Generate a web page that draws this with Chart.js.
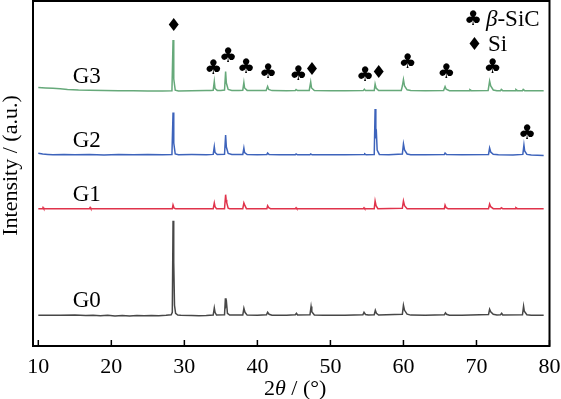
<!DOCTYPE html>
<html>
<head>
<meta charset="utf-8">
<script src="https://cdn.jsdelivr.net/npm/chart.js@4.4.1/dist/chart.umd.min.js"></script>
<style>
  html, body { margin: 0; padding: 0; background: #fff; }
  #wrap { width: 561px; height: 399px; }
</style>
</head>
<body>
<div id="wrap"><canvas id="c" width="561" height="399"></canvas></div>
<script>
// ---------------- DATA ----------------
const xTicks = [10, 20, 30, 40, 50, 60, 70, 80];
const seriesNames = ['G0', 'G1', 'G2', 'G3'];
// vertical stacking offsets of each pattern (a.u.)
const seriesOffsets = [30.7, 137.3, 191, 255];

// [2θ (°), intensity above own baseline (a.u.)]
const g0 = [[10.0,0],[13.0,0],[15.0,0.2],[16.5,-0.3],[17.5,0],[18.5,-0.5],[19.5,0],[20.5,-0.6],[21.5,-0.2],[22.5,-0.6],[23.5,-0.1],[24.5,-0.5],[25.5,-0.2],[26.5,-0.5],[27.5,0],[28.2,0.5],[28.35,3],[28.45,94.5],[28.52,40],[28.57,53],[28.65,10],[28.8,2],[29.1,0.3],[29.5,0],[31.0,-0.3],[32.0,-0.5],[33.0,-0.2],[33.95,0.3],[34.1,7.3],[34.2,3],[34.4,0.3],[35.5,0.5],[35.62,17],[35.7,10],[35.78,12],[35.9,2],[36.2,0.2],[38.0,0.3],[38.15,7],[38.3,3],[38.6,0.2],[40.0,0],[41.25,0.5],[41.4,3],[41.6,1],[42.0,0],[44.0,0],[45.2,0.5],[45.35,2],[45.5,0.3],[47.2,0.5],[47.35,8.7],[47.45,3.5],[47.8,0.4],[49.0,0],[52.0,0],[54.45,0.5],[54.6,3],[54.8,0.8],[55.2,0.2],[56.0,0.5],[56.15,5],[56.3,2],[56.6,0.3],[59.85,1],[60.0,10],[60.15,5],[60.5,1.2],[61.0,0.2],[63.0,0],[65.6,0.5],[65.75,2.5],[65.9,1],[66.3,0],[68.0,0],[71.65,0.7],[71.8,6],[71.95,3.5],[72.3,1],[72.8,0.2],[73.3,0.5],[73.45,2],[73.6,0.3],[76.3,0.5],[76.45,9],[76.55,4],[76.9,0.6],[77.5,0],[79.2,0]];

const g1 = [[10.0,0],[10.6,0],[10.65,1.2],[10.75,0],[17.0,0],[17.1,1.2],[17.2,0],[28.35,0],[28.45,3.7],[28.6,0.5],[28.8,0],[33.95,0],[34.1,5.7],[34.2,2],[34.4,0],[35.5,0],[35.65,14],[35.72,9],[35.8,6],[36.0,0.5],[36.2,0],[38.0,0],[38.15,5.7],[38.3,3],[38.5,0],[41.3,0],[41.4,3],[41.55,1],[41.8,0],[45.2,0],[45.3,1],[45.4,0],[54.5,0],[54.6,1],[54.7,0],[56.0,0],[56.12,7.7],[56.25,3],[56.5,0],[59.85,0.5],[60.0,7.7],[60.15,3],[60.5,0],[65.6,0],[65.7,3.7],[65.85,1],[66.1,0],[71.65,0],[71.8,4.7],[71.95,2],[72.3,0],[73.3,0],[73.4,1],[73.6,0],[75.3,0],[75.4,1],[75.6,0],[79.2,0]];

const g2 = [[10.0,1.8],[10.6,1.0],[11.3,0.6],[12.0,0.3],[13.5,0.5],[15.0,0.2],[17.0,0.4],[19.0,0.1],[21.0,0.4],[23.0,0.2],[25.0,0.4],[27.0,0.2],[28.3,0.4],[28.45,42.5],[28.55,12],[28.75,1],[29.2,0.2],[31.0,0.4],[33.0,0.3],[33.95,0.6],[34.1,8.3],[34.2,2.5],[34.5,0.5],[35.5,0.8],[35.65,20],[35.75,8],[36.0,1.5],[36.5,0.5],[38.0,0.6],[38.15,7],[38.25,2.5],[38.6,0.4],[40.0,0.3],[41.3,0.6],[41.4,2],[41.6,0.4],[43.0,0.2],[45.2,0.3],[45.3,1],[45.5,0.2],[47.2,0.3],[47.3,1],[47.5,0.2],[50.0,0.3],[52.0,0.2],[54.6,0.4],[54.7,1.2],[54.9,0.2],[56.0,0.5],[56.12,46],[56.22,20],[56.3,22],[56.4,5],[56.7,0.6],[58.0,0.2],[59.85,1],[60.0,11],[60.15,5],[60.5,1],[61.0,0.3],[63.0,0.2],[65.6,0.5],[65.7,2],[65.9,0.5],[68.0,0.2],[71.65,0.6],[71.8,7],[71.95,3],[72.3,0.8],[73.0,0.2],[75.0,0.1],[76.35,0.6],[76.5,10],[76.6,4],[76.9,0.6],[77.5,0],[79.2,-0.5]];

const g3 = [[10.0,3.4],[11.0,3.0],[12.0,2.7],[13.0,2.2],[14.0,1.6],[15.5,1.0],[17.0,0.8],[19.0,0.6],[21.0,0.3],[23.0,0.2],[25.0,0],[27.0,0.1],[28.3,0.2],[28.45,51],[28.55,12],[28.75,0.8],[29.2,0],[31.0,0.3],[33.0,0.5],[33.6,0.6],[33.95,0.8],[34.1,9.5],[34.2,2.5],[34.5,0.6],[35.0,0.5],[35.5,1],[35.65,19.5],[35.75,8],[36.0,1.5],[36.5,0.6],[37.5,0.5],[38.0,0.8],[38.15,8.5],[38.25,3],[38.6,0.6],[39.5,0.4],[41.2,0.6],[41.4,4.5],[41.55,1.5],[42.0,0.4],[44.0,0.3],[45.2,0.5],[45.3,1.5],[45.5,0.4],[47.1,0.5],[47.3,9],[47.42,3],[47.8,0.4],[50.0,0.3],[52.0,0.2],[54.5,0.4],[54.65,1.8],[54.8,0.4],[56.0,0.5],[56.12,7],[56.25,3],[56.6,0.4],[59.7,0.6],[59.85,5],[60.0,11.5],[60.15,5],[60.5,1.2],[61.0,0.4],[63.0,0.2],[65.5,0.6],[65.7,4.5],[65.85,1.8],[66.3,0.3],[69.0,0.3],[69.1,1.3],[69.3,0.3],[71.6,0.6],[71.8,10],[71.95,5],[72.3,1],[72.8,0.3],[73.3,0.3],[73.4,1.5],[73.6,0.3],[75.3,0.3],[75.4,1.5],[75.6,0.3],[76.3,0.3],[76.4,1.5],[76.6,0.3],[78.0,0.2],[79.2,0.3]];

// phase markers: 'c' = β-SiC (club), 'd' = Si (diamond); [2θ, height (a.u.)]
const markerType = ['d','c','c','c','c','c','d','c','d','c','c','c','c'];
const markerX    = [28.47, 33.95, 35.98, 38.43, 41.45, 45.6, 47.4, 54.75, 56.55, 60.55, 65.87, 72.18, 76.93];
const markerY    = [321.7, 279.3, 291.7, 280.2, 275.5, 273.8, 277.7, 272.5, 274.7, 285.2, 275.5, 280.5, 215];

// sample label anchors [2θ, a.u.]
const labelX = [14.7, 14.7, 14.7, 14.7];
const labelY = [38.7, 145, 199.3, 263.3];

// ---------------- STYLE ----------------
const colors = ['#474747', '#e0334b', '#3d63bb', '#66a97a'];
const serif = '"Liberation Serif", "Times New Roman", serif';
const symFont = '"DejaVu Sans", sans-serif';

const allData = [g0, g1, g2, g3];
const datasets = allData.map((arr, i) => ({
  label: seriesNames[i],
  data: arr.map(p => ({ x: p[0], y: p[1] + seriesOffsets[i] })),
  borderColor: colors[i],
  backgroundColor: colors[i],
  borderWidth: 1.5,
  pointRadius: 0,
  tension: 0,
  fill: false
}));

function drawSymbol(ctx, ch, cx, cy, targetH) {
  ctx.font = '100px ' + symFont;
  let m = ctx.measureText(ch);
  const h100 = m.actualBoundingBoxAscent + m.actualBoundingBoxDescent;
  const size = targetH * 100 / h100;
  ctx.font = size + 'px ' + symFont;
  m = ctx.measureText(ch);
  ctx.textAlign = 'left';
  ctx.textBaseline = 'alphabetic';
  const x = cx - (m.actualBoundingBoxRight - m.actualBoundingBoxLeft) / 2;
  const y = cy + (m.actualBoundingBoxAscent - m.actualBoundingBoxDescent) / 2;
  ctx.fillText(ch, x, y);
}

function drawRuns(ctx, runs, startX, baseY, align) {
  let total = 0;
  runs.forEach(r => { ctx.font = r[1]; total += ctx.measureText(r[0]).width; });
  let x = align === 'center' ? startX - total / 2 : startX;
  ctx.textAlign = 'left';
  ctx.textBaseline = 'alphabetic';
  runs.forEach(r => { ctx.font = r[1]; ctx.fillText(r[0], x, baseY); x += ctx.measureText(r[0]).width; });
}

const decor = {
  id: 'decor',
  afterDatasetsDraw(chart) {
    const { ctx, chartArea: a, scales: { x, y } } = chart;
    ctx.save();
    ctx.fillStyle = '#000';
    ctx.strokeStyle = '#000';
    // frame
    ctx.lineWidth = 2;
    ctx.strokeRect(a.left, a.top, a.right - a.left, a.bottom - a.top);
    // inward ticks
    ctx.lineWidth = 1.5;
    x.ticks.forEach(t => {
      const px = x.getPixelForValue(t.value);
      ctx.beginPath();
      ctx.moveTo(px, a.bottom);
      ctx.lineTo(px, a.bottom - 6);
      ctx.stroke();
    });
    // sample labels
    ctx.font = '23px ' + serif;
    ctx.textAlign = 'left';
    ctx.textBaseline = 'alphabetic';
    seriesNames.forEach((n, i) => {
      ctx.fillText(n, x.getPixelForValue(labelX[i]), y.getPixelForValue(labelY[i]));
    });
    // phase markers
    markerType.forEach((t, i) => {
      const px = x.getPixelForValue(markerX[i]);
      const py = y.getPixelForValue(markerY[i]);
      if (t === 'c') drawSymbol(ctx, '\u2663', px, py, 15);
      else drawSymbol(ctx, '\u2666', px, py, 13);
    });
    // legend
    drawSymbol(ctx, '\u2663', a.right - 76.5, a.top + 16.3, 15);
    drawSymbol(ctx, '\u2666', a.right - 75.5, a.top + 42.2, 13);
    drawRuns(ctx, [['\u03B2', 'italic 23px ' + serif], ['-SiC', '23px ' + serif]], a.right - 63.5, a.top + 24.5, 'left');
    drawRuns(ctx, [['Si', '23px ' + serif]], a.right - 61.5, a.top + 49.7, 'left');
    // axis titles
    drawRuns(ctx, [['2', '22px ' + serif], ['\u03B8', 'italic 22px ' + serif], [' / (\u00B0)', '22px ' + serif]],
      (a.left + a.right) / 2 + 4, 395, 'center');
    ctx.translate(17, 165.5);
    ctx.rotate(-Math.PI / 2);
    ctx.font = '22px ' + serif;
    ctx.textAlign = 'center';
    ctx.textBaseline = 'alphabetic';
    ctx.fillText('Intensity / (a.u.)', 0, 0);
    ctx.restore();
  }
};

new Chart(document.getElementById('c'), {
  type: 'line',
  data: { datasets },
  options: {
    responsive: false,
    animation: false,
    events: [],
    layout: { padding: { left: 0, right: 11.5, top: 1, bottom: 0 } },
    plugins: { legend: { display: false }, tooltip: { enabled: false } },
    scales: {
      x: {
        type: 'linear',
        min: 9.274,
        max: 80,
        afterBuildTicks: s => { s.ticks = xTicks.map(v => ({ value: v })); },
        afterFit: s => { s.height = 53; },
        grid: { display: true, drawOnChartArea: false, drawTicks: false, color: 'rgba(0,0,0,0)' },
        border: { display: false },
        ticks: {
          color: '#000',
          font: { family: serif, size: 22, lineHeight: '42.4px' },
          padding: 0,
          maxRotation: 0,
          autoSkip: false
        }
      },
      y: {
        type: 'linear',
        min: 0,
        max: 345,
        afterFit: s => { s.width = 33; },
        grid: { display: false },
        border: { display: false },
        ticks: { display: false }
      }
    }
  },
  plugins: [decor]
});
</script>
</body>
</html>
